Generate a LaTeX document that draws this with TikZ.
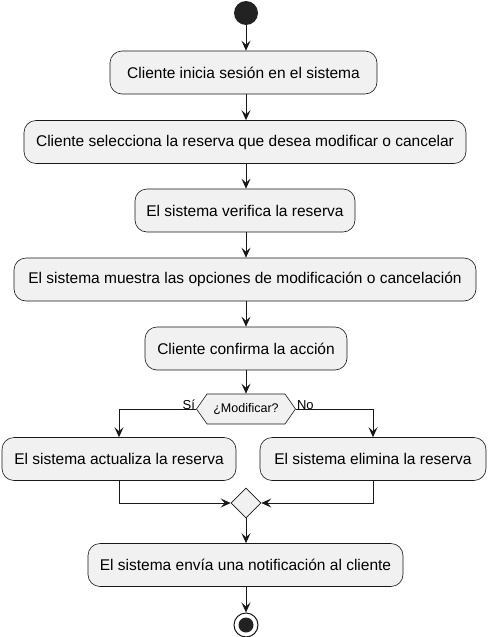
\documentclass[tikz,border=0pt]{standalone}
\usepackage{fontspec}
\setmainfont{Liberation Sans}
\usetikzlibrary{arrows.meta,shapes.geometric,shapes.symbols,positioning}
\definecolor{boxfill}{HTML}{F1F1F1}
\definecolor{linec}{HTML}{181818}
\definecolor{dotc}{HTML}{222222}
\begin{document}
\begin{tikzpicture}[x=1pt,y=-1pt,
  act/.style={draw=linec,fill=boxfill,line width=0.6pt,rounded corners=12pt,minimum height=43pt,inner xsep=3pt,font=\fontsize{15.5}{18}\selectfont,text=black},
  flow/.style={draw=linec,line width=1pt,-{Stealth[length=10pt,width=9pt,inset=4pt]}},
  lbl/.style={font=\fontsize{13}{15}\selectfont,text=black,inner sep=0pt}
]
\useasboundingbox (0,0) rectangle (492,637);
\node[circle,fill=dotc,minimum size=24pt,inner sep=0pt] (start) at (246,13) {};
\node[act,minimum width=267pt] (a1) at (243.5,72.5) {Cliente inicia sesión en el sistema};
\node[act,minimum width=442pt] (a2) at (245,142) {Cliente selecciona la reserva que desea modificar o cancelar};
\node[act,minimum width=220pt] (a3) at (245,210.5) {El sistema verifica la reserva};
\node[act,minimum width=462pt] (a4) at (245,279.5) {El sistema muestra las opciones de modificación o cancelación};
\node[act,minimum width=202pt] (a5) at (246,348.5) {Cliente confirma la acción};
\node[draw=linec,fill=boxfill,line width=0.6pt,signal,signal to=west and east,signal pointer angle=110,minimum height=30pt,minimum width=99pt,inner xsep=0pt,font=\fontsize{12.5}{15}\selectfont] (dec) at (246,409) {¿Modificar?};
\node[act,minimum width=234pt] (a6) at (119,459) {El sistema actualiza la reserva};
\node[act,minimum width=226pt] (a7) at (373,459) {El sistema elimina la reserva};
\node[draw=linec,fill=boxfill,line width=0.6pt,diamond,minimum size=30pt,inner sep=0pt] (merge) at (246,503) {};
\node[act,minimum width=315pt] (a8) at (245.5,565) {El sistema envía una notificación al cliente};
\node[circle,draw=linec,line width=1pt,fill=white,minimum size=24pt,inner sep=0pt] (stop) at (246,625) {};
\node[circle,fill=dotc,minimum size=15pt,inner sep=0pt] (stopin) at (246,625) {};

\draw[flow] (start) -- (start |- a1.north);
\draw[flow] (start |- a1.south) -- (start |- a2.north);
\draw[flow] (start |- a2.south) -- (start |- a3.north);
\draw[flow] (start |- a3.south) -- (start |- a4.north);
\draw[flow] (start |- a4.south) -- (start |- a5.north);
\draw[flow] (a5.south -| dec.north) -- (dec.north);
\draw[flow] (dec.west) -| (a6.north);
\draw[flow] (dec.east) -| (a7.north);
\draw[flow] (a6.south) |- (merge.west);
\draw[flow] (a7.south) |- (merge.east);
\draw[flow] (merge.south) -- (merge.south |- a8.north);
\draw[flow] (merge.south |- a8.south) -- (stop);
\node[lbl,anchor=south east] at ([xshift=-1pt,yshift=-1pt]dec.west) {Sí};
\node[lbl,anchor=south west] at ([xshift=1pt,yshift=-1pt]dec.east) {No};
\end{tikzpicture}
\end{document}
